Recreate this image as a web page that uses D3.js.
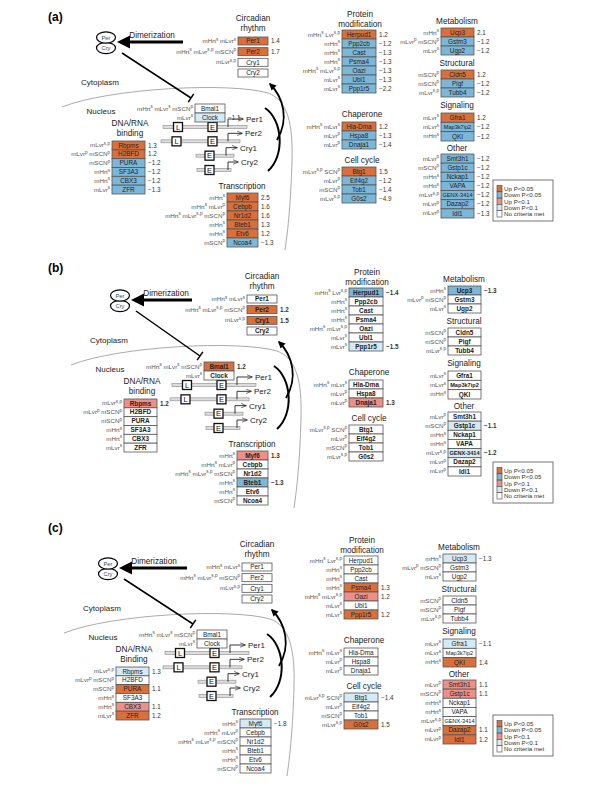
<!DOCTYPE html>
<html>
<head>
<meta charset="utf-8">
<script src="https://cdn.jsdelivr.net/npm/d3@7"></script>
<style>
  body { margin: 0; background: #fff; }
  svg { font-family: "Liberation Sans", Arial, sans-serif; }
</style>
</head>
<body>
<script>
// gene lists and tissue labels (same in every panel)
const circadianGenes = ["Per1", "Per2", "Cry1", "Cry2"];
const circadianTissues = ["mHrt^s mLvr^s", "mHrt^s mLvr^s,p mSCN^p", "mLvr^s,p", ""];
const clockGenes = ["Bmal1", "Clock"];
const clockTissues = ["mHrt^s mLvr^s mSCN^p", "mLvr^s"];
const dnaGenes = ["Rbpms", "H2BFD", "PURA", "SF3A3", "CBX3", "ZFR"];
const dnaTissues = ["mLvr^s,p", "mLvr^p mSCN^p", "mSCN^p", "mHrt^s", "mHrt^s", "mLvr^s"];
const transcriptionGenes = ["Myf6", "Cebpb", "Nr1d2", "Bteb1", "Etv6", "Ncoa4"];
const transcriptionTissues = ["mHrt^s", "mHrt^s mLvr^p", "mHrt^s mLvr^s,p mSCN^p", "mHrt^s", "mHrt^s", "mSCN^p"];
const proteinGenes = ["Herpud1", "Ppp2cb", "Cast", "Psma4", "Oazi", "Ubl1", "Ppp1r5"];
const proteinTissues = ["mHrt^s Lvr^s,p", "mHrt^s", "mHrt^s", "mHrt^s", "mHrt^s mLvr^s,p", "mLvr^s", "mLvr^s"];
const chaperoneGenes = ["Hla-Dma", "Hspa8", "Dnaja1"];
const chaperoneTissues = ["mHrt^s mLvr^s", "mLvr^p", "mLvr^p"];
const cellCycleGenes = ["Btg1", "Eif4g2", "Tob1", "G0s2"];
const cellCycleTissues = ["mLvr^s,p SCN^p", "mLvr^p", "mSCN^p", "mLvr^s,p"];
const metabolismGenes = ["Ucp3", "Gstm3", "Ugp2"];
const metabolismTissues = ["mHrt^s", "mLvr^p mSCN^p", "mLvr^s"];
const structuralGenes = ["Cldn5", "Pigf", "Tubb4"];
const structuralTissues = ["mSCN^p", "mSCN^p", "mLvr^s,p"];
const signalingGenes = ["Gfra1", "Map3k7ip2", "QKI"];
const signalingTissues = ["mLvr^s", "mLvr^s", "mHrt^s"];
const otherGenes = ["Smt3h1", "Gstp1c", "Nckap1", "VAPA", "GENX-3414", "Dazap2", "Idi1"];
const otherTissues = ["mLvr^p", "mSCN^p", "mHrt^s", "mHrt^s", "mLvr^s,p", "mLvr^p", "mLvr^p"];
const promoterGenes = ["Per1", "Per2", "Cry1", "Cry2"];
const promoterHasL = [true, true, false, false];

// fold change and call per panel: U up P<0.05, D down P<0.05, u up P<0.1, d down P<0.1
const changesA = [
  ["Per1", 1.4, "U"], ["Per2", 1.7, "U"], ["Clock", -1.1, "d"],
  ["Rbpms", 1.3, "U"], ["H2BFD", 1.2, "U"], ["PURA", -1.2, "D"], ["SF3A3", -1.2, "D"], ["CBX3", -1.2, "D"], ["ZFR", -1.3, "D"],
  ["Myf6", 2.5, "U"], ["Cebpb", 1.6, "U"], ["Nr1d2", 1.6, "U"], ["Bteb1", 1.3, "U"], ["Etv6", 1.2, "U"], ["Ncoa4", -1.3, "D"],
  ["Herpud1", 1.2, "U"], ["Ppp2cb", -1.2, "D"], ["Cast", -1.3, "D"], ["Psma4", -1.3, "D"], ["Oazi", -1.3, "D"], ["Ubl1", -1.3, "D"], ["Ppp1r5", -2.2, "D"],
  ["Hla-Dma", 1.2, "U"], ["Hspa8", -1.3, "D"], ["Dnaja1", -1.4, "D"],
  ["Btg1", 1.5, "U"], ["Eif4g2", -1.2, "D"], ["Tob1", -1.4, "D"], ["G0s2", -4.9, "D"],
  ["Ucp3", 2.1, "U"], ["Gstm3", -1.2, "D"], ["Ugp2", -1.2, "D"],
  ["Cldn5", 1.2, "U"], ["Pigf", -1.2, "D"], ["Tubb4", -1.2, "D"],
  ["Gfra1", 1.2, "U"], ["Map3k7ip2", -1.2, "D"], ["QKI", -1.2, "D"],
  ["Smt3h1", -1.2, "D"], ["Gstp1c", -1.2, "D"], ["Nckap1", -1.2, "D"], ["VAPA", -1.2, "D"], ["GENX-3414", -1.2, "D"], ["Dazap2", -1.2, "D"], ["Idi1", -1.3, "D"]
];
const changesB = [
  ["Per2", 1.2, "U"], ["Cry1", 1.5, "U"], ["Bmal1", 1.2, "U"], ["Rbpms", 1.2, "u"],
  ["Myf6", 1.3, "u"], ["Bteb1", -1.3, "D"], ["Herpud1", -1.4, "D"], ["Ppp1r5", -1.5, "d"],
  ["Dnaja1", 1.3, "u"], ["Ucp3", -1.3, "D"], ["Gstp1c", -1.1, "d"], ["GENX-3414", -1.2, "d"]
];
const changesC = [
  ["Rbpms", 1.3, "d"], ["PURA", 1.1, "U"], ["CBX3", 1.1, "u"], ["ZFR", 1.2, "U"],
  ["Myf6", -1.8, "d"], ["Psma4", 1.3, "U"], ["Oazi", 1.2, "u"], ["Ppp1r5", 1.2, "U"],
  ["Btg1", -1.4, "d"], ["G0s2", 1.5, "U"], ["Ucp3", -1.3, "d"], ["Gfra1", -1.1, "d"],
  ["QKI", 1.4, "U"], ["Smt3h1", 1.1, "u"], ["Gstp1c", 1.1, "u"], ["Dazap2", 1.1, "U"], ["Idi1", 1.2, "U"]
];
const legendLabels = ["Up P<0.05", "Down P<0.05", "Up P<0.1", "Down P<0.1", "No criteria met"];
const legendCalls = ["U", "D", "u", "d", ""];

const callColor = d3.scaleOrdinal()
  .domain(["U", "D", "u", "d", ""])
  .range(["#d9703b", "#7db7d8", "#ee9088", "#d4ebf6", "#ffffff"]);

const fmt = d3.format(".1f");

// group layout (coordinates of panel a)
const groups = [
  {genes: circadianGenes, tissues: circadianTissues, x: 238, y0: 37, y1: 77, w: 30, pad: 0.25, title: ["Circadian", "rhythm"], tx: 253, ty: 21, off: "circ"},
  {genes: clockGenes, tissues: clockTissues, x: 195, y0: 104, y1: 122, w: 30, pad: 0, title: [], off: "clock"},
  {genes: dnaGenes, tissues: dnaTissues, x: 112, y0: 141, y1: 194, w: 33, pad: 0, title: ["DNA/RNA", "binding"], tx: 130, ty: 126, off: "dna"},
  {genes: transcriptionGenes, tissues: transcriptionTissues, x: 227, y0: 193, y1: 247, w: 31, pad: 0, title: ["Transcription"], tx: 242, ty: 189, off: "trans"},
  {genes: proteinGenes, tissues: proteinTissues, x: 342, y0: 30, y1: 93, w: 34, pad: 0, title: ["Protein", "modification"], tx: 360, ty: 17, off: "right"},
  {genes: chaperoneGenes, tissues: chaperoneTissues, x: 342, y0: 122, y1: 149, w: 34, pad: 0, title: ["Chaperone"], tx: 362, ty: 117, off: "right"},
  {genes: cellCycleGenes, tissues: cellCycleTissues, x: 342, y0: 167, y1: 203, w: 34, pad: 0, title: ["Cell cycle"], tx: 362, ty: 163, off: "right"},
  {genes: metabolismGenes, tissues: metabolismTissues, x: 441, y0: 28, y1: 55, w: 33, pad: 0, title: ["Metabolism"], tx: 457, ty: 24, off: "right"},
  {genes: structuralGenes, tissues: structuralTissues, x: 441, y0: 70, y1: 97, w: 33, pad: 0, title: ["Structural"], tx: 457, ty: 66, off: "right"},
  {genes: signalingGenes, tissues: signalingTissues, x: 441, y0: 113, y1: 141, w: 33, pad: 0, title: ["Signaling"], tx: 457, ty: 108, off: "right"},
  {genes: otherGenes, tissues: otherTissues, x: 441, y0: 154, y1: 218, w: 33, pad: 0, title: ["Other"], tx: 457, ty: 151, off: "right"}
];

const panels = [
  {name: "(a)", changes: changesA, dy: 0, labelY: 21, bold: false, binding: "binding",
   off: {dimer: 0, circ: 0, clock: 0, dna: 0, trans: 0, right: 0}, legend: [493, 180]},
  {name: "(b)", changes: changesB, dy: 258, labelY: 272, bold: true, binding: "binding",
   off: {dimer: 14, circ: 9, clock: 9, dna: 12, trans: 10, right: 7}, legend: [493, 462]},
  {name: "(c)", changes: changesC, dy: 526, labelY: 532, bold: false, binding: "Binding",
   off: {dimer: 2, circ: 4, clock: 2, dna: 4, trans: 13, right: 2}, legend: [493, 715]}
];

const svg = d3.select("body").append("svg")
  .attr("width", 600)
  .attr("height", 786);

const defs = svg.append("defs");
defs.append("marker")
  .attr("id", "head")
  .attr("viewBox", "0 0 10 10")
  .attr("refX", 8).attr("refY", 5)
  .attr("markerWidth", 4).attr("markerHeight", 4)
  .attr("orient", "auto")
  .append("path").attr("d", "M0,0 L10,5 L0,10 z").attr("fill", "#000");
defs.append("marker")
  .attr("id", "tss")
  .attr("viewBox", "0 0 10 10")
  .attr("refX", 9).attr("refY", 5)
  .attr("markerWidth", 6).attr("markerHeight", 6)
  .attr("orient", "auto")
  .append("path").attr("d", "M0,1 L10,5 L0,9").attr("fill", "none").attr("stroke", "#222").attr("stroke-width", 1.2);

// tissue label with superscripts, right aligned
function tissueLabel(g, str, x, y) {
  const t = g.append("text")
    .attr("x", x).attr("y", y)
    .attr("text-anchor", "end")
    .attr("font-size", 6.2)
    .attr("fill", "#555");
  let raised = false;
  str.split(" ").filter(s => s).forEach((tok, i) => {
    const [base, sup] = tok.split("^");
    t.append("tspan").attr("dy", raised ? 2.3 : 0).text((i ? " " : "") + base);
    raised = false;
    if (sup) {
      t.append("tspan").attr("dy", -2.3).attr("font-size", 4.6).text(sup);
      raised = true;
    }
  });
}

function drawGroup(g, grp, lookup, bold) {
  const y = d3.scaleBand()
    .domain(grp.genes)
    .range([grp.y0, grp.y1])
    .paddingInner(grp.pad);

  grp.title.forEach((line, i) => {
    g.append("text")
      .attr("x", grp.tx).attr("y", grp.ty + i * 10)
      .attr("text-anchor", "middle")
      .attr("font-size", 8.2)
      .attr("fill", "#222")
      .text(line);
  });

  const rows = g.selectAll(null)
    .data(grp.genes.map((gene, i) => ({gene, tissue: grp.tissues[i], ch: lookup.get(gene)})))
    .enter().append("g");

  rows.append("rect")
    .attr("x", grp.x)
    .attr("y", d => y(d.gene))
    .attr("width", grp.w)
    .attr("height", y.bandwidth())
    .attr("fill", d => callColor(d.ch ? d.ch[2] : ""))
    .attr("stroke", "#555")
    .attr("stroke-width", 0.8);

  rows.append("text")
    .attr("x", grp.x + grp.w / 2)
    .attr("y", d => y(d.gene) + y.bandwidth() / 2 + 2.2)
    .attr("text-anchor", "middle")
    .attr("font-size", d => d.gene.length > 7 ? 5.6 : 6.4)
    .attr("font-weight", bold ? "bold" : "normal")
    .attr("fill", "#222")
    .text(d => d.gene);

  rows.append("text")
    .attr("x", grp.x + grp.w + 3)
    .attr("y", d => y(d.gene) + y.bandwidth() / 2 + 2.2)
    .attr("font-size", 6.3)
    .attr("font-weight", bold ? "bold" : "normal")
    .attr("fill", "#333")
    .text(d => d.ch ? fmt(d.ch[1]) : "");

  rows.each(function(d) {
    if (d.tissue) tissueLabel(d3.select(this), d.tissue, grp.x - 2, y(d.gene) + y.bandwidth() / 2 + 2);
  });
}

function drawPanel(p) {
  const root = svg.append("g").attr("transform", `translate(0,${p.dy})`);
  const lookup = new Map(p.changes.map(c => [c[0], c]));
  const off = p.off;

  root.append("text")
    .attr("x", 48).attr("y", p.labelY - p.dy)
    .attr("font-size", 12).attr("font-weight", "bold")
    .text(p.name);

  // nucleus membrane
  const cell = root.append("g").attr("transform", `translate(${off.clock},0)`);
  cell.append("path")
    .attr("d", "M62,107 C110,88 230,82 268,93 C288,100 293,125 292,160 C291,200 288,230 285,250")
    .attr("fill", "none").attr("stroke", "#aaa").attr("stroke-width", 1);
  cell.append("text").attr("x", 100).attr("y", 85).attr("text-anchor", "middle")
    .attr("font-size", 8).attr("fill", "#222").text("Cytoplasm");
  cell.append("text").attr("x", 101).attr("y", 114).attr("text-anchor", "middle")
    .attr("font-size", 8).attr("fill", "#222").text("Nucleus");

  // promoters
  const py = d3.scalePoint().domain(promoterGenes).range([127, 170]);
  const lineX = [[163, 247], [161, 240], [196, 234], [197, 231]];
  const eX = [208, 208, 205, 205];
  const lX = [173.5, 172, 0, 0];
  const tssX = [228, 228, 226, 228];
  const tssEnd = [243, 242, 237, 238];
  promoterGenes.forEach((gname, i) => {
    const yy = py(gname);
    cell.append("rect")
      .attr("x", lineX[i][0]).attr("y", yy - 1.5)
      .attr("width", lineX[i][1] - lineX[i][0]).attr("height", 3)
      .attr("fill", "#ddd").attr("stroke", "#888").attr("stroke-width", 0.6);
    cell.append("path")
      .attr("d", `M${tssX[i]},${yy} V${yy - 8} H${tssEnd[i]}`)
      .attr("fill", "none").attr("stroke", "#222").attr("stroke-width", 0.9)
      .attr("marker-end", "url(#tss)");
    cell.append("text").attr("x", tssEnd[i] + 3).attr("y", yy - 5)
      .attr("font-size", 8).attr("fill", "#222").text(gname);
    const boxes = [["E", eX[i]]];
    if (promoterHasL[i]) boxes.push(["L", lX[i]]);
    boxes.forEach(([lab, bx]) => {
      cell.append("rect").attr("x", bx).attr("y", yy - 4.5).attr("width", 9).attr("height", 9)
        .attr("fill", "#fff").attr("stroke", "#111").attr("stroke-width", 1.3);
      cell.append("text").attr("x", bx + 4.5).attr("y", yy + 2.6).attr("text-anchor", "middle")
        .attr("font-size", 7.5).attr("fill", "#111").text(lab);
    });
  });

  // bracket and feedback arrow
  cell.append("path").attr("d", "M265,108 C283,120 285,156 268,171")
    .attr("fill", "none").attr("stroke", "#000").attr("stroke-width", 2);
  cell.append("path").attr("d", "M277,140 C289,120 284,98 270,84")
    .attr("fill", "none").attr("stroke", "#000").attr("stroke-width", 1.8)
    .attr("marker-end", "url(#head)");

  // dimerization
  const dim = root.append("g").attr("transform", `translate(${off.dimer},0)`);
  dim.append("line").attr("x1", 183 - off.dimer + off.circ).attr("y1", 42).attr("x2", 127).attr("y2", 42)
    .attr("stroke", "#000").attr("stroke-width", 3);
  dim.append("path").attr("d", "M117,42 L130,35.5 L130,48.5 z").attr("fill", "#000");
  dim.append("text").attr("x", 152).attr("y", 38).attr("text-anchor", "middle")
    .attr("font-size", 8.2).attr("fill", "#222").text("Dimerization");
  [["Cry", 48], ["Per", 37.5]].forEach(([lab, cy]) => {
    dim.append("ellipse").attr("cx", 106).attr("cy", cy).attr("rx", 9.5).attr("ry", 5.6)
      .attr("fill", "#fff").attr("stroke", "#000").attr("stroke-width", 1.2);
    dim.append("text").attr("x", 106).attr("y", cy + 2).attr("text-anchor", "middle")
      .attr("font-size", 5.8).attr("fill", "#444").text(lab);
  });

  // inhibition of Bmal1/Clock
  const x1 = 122 + off.dimer, y1 = 53, x2 = 191 + off.clock, y2 = 98;
  const len = Math.hypot(x2 - x1, y2 - y1);
  const nx = -(y2 - y1) / len * 5, ny = (x2 - x1) / len * 5;
  root.append("line").attr("x1", x1).attr("y1", y1).attr("x2", x2).attr("y2", y2)
    .attr("stroke", "#000").attr("stroke-width", 1.5);
  root.append("line").attr("x1", x2 - nx).attr("y1", y2 - ny).attr("x2", x2 + nx).attr("y2", y2 + ny)
    .attr("stroke", "#000").attr("stroke-width", 1.5);

  // gene boxes
  groups.forEach(grp => {
    const g = root.append("g").attr("transform", `translate(${off[grp.off]},0)`);
    const gg = grp.title[1] === "binding" ? Object.assign({}, grp, {title: ["DNA/RNA", p.binding]}) : grp;
    drawGroup(g, gg, lookup, p.bold);
  });

  // legend
  const [lx, ly] = p.legend;
  const leg = svg.append("g").attr("transform", `translate(${lx},${ly})`);
  leg.append("rect").attr("width", 60).attr("height", 41)
    .attr("fill", "#fff").attr("stroke", "#777").attr("stroke-width", 1);
  const ly2 = d3.scaleBand().domain(legendLabels).range([5.5, 37]);
  legendLabels.forEach((lab, i) => {
    leg.append("rect").attr("x", 4).attr("y", ly2(lab)).attr("width", 5).attr("height", ly2.bandwidth())
      .attr("fill", callColor(legendCalls[i])).attr("stroke", "#444").attr("stroke-width", 0.6);
    leg.append("text").attr("x", 11).attr("y", ly2(lab) + ly2.bandwidth() - 0.8)
      .attr("font-size", 6.2).attr("fill", "#333").text(lab);
  });
}

panels.forEach(drawPanel);
</script>
</body>
</html>
